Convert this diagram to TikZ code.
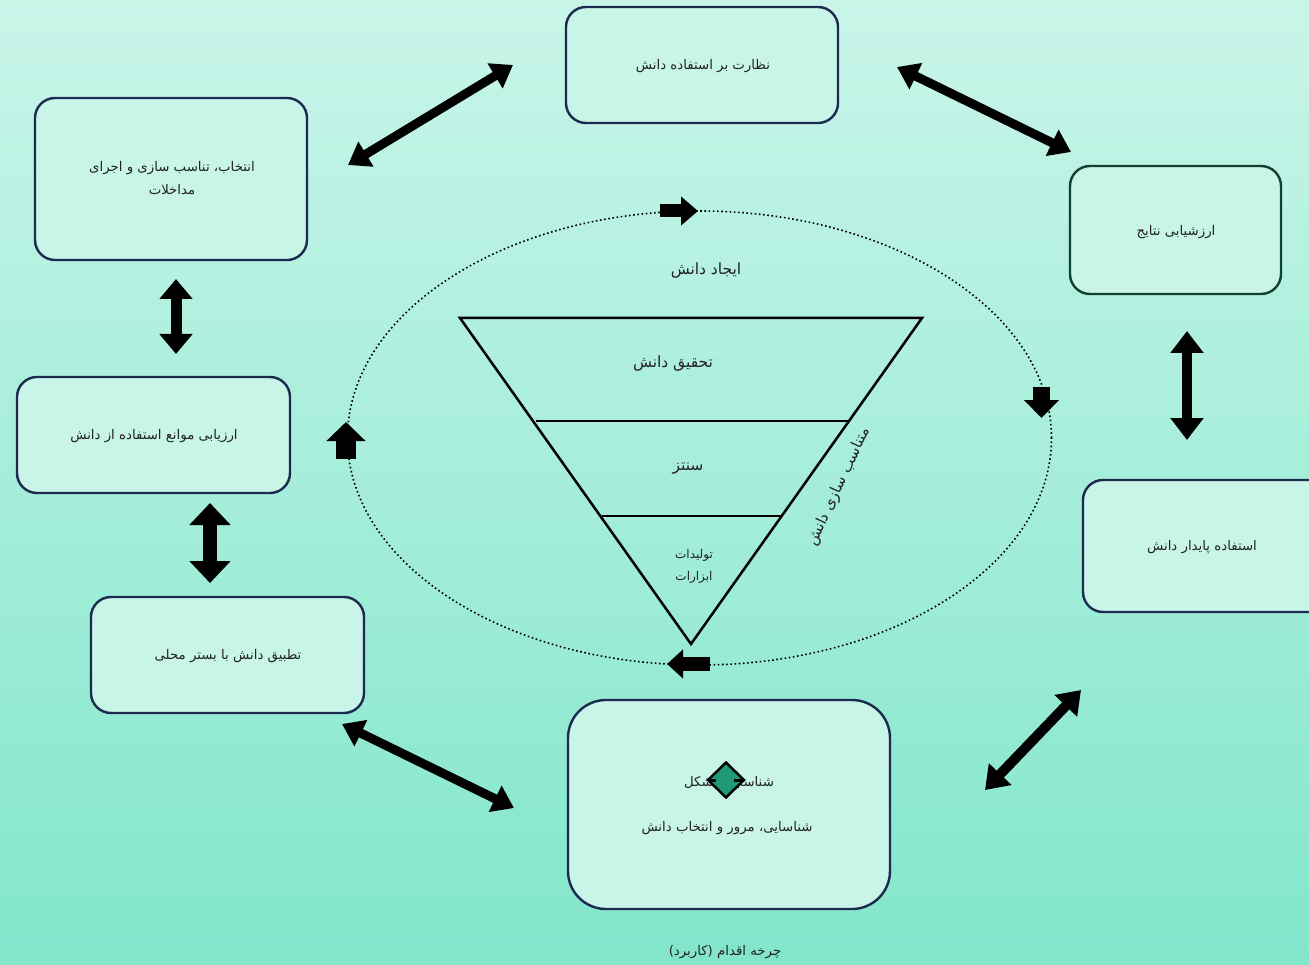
\documentclass[tikz,border=0pt]{standalone}
\usepackage{fontspec}
\newfontfamily\arabicfont[Script=Arabic]{DejaVu Sans}
\TeXXeTstate=1
\usetikzlibrary{arrows.meta,shapes.geometric}
\newcommand{\fa}[1]{{\arabicfont\beginR #1\endR}}
\definecolor{bgtop}{HTML}{C9F5E9}
\definecolor{bgbot}{HTML}{82E6CB}
\definecolor{boxfill}{HTML}{C8F5E8}
\definecolor{navy}{HTML}{1B2A4E}
\definecolor{dkgreen}{HTML}{12402E}
\definecolor{txt}{HTML}{222222}
\definecolor{teal}{HTML}{1E9A78}
\tikzset{
  x=1pt, y=-1pt,
  cbox/.style={draw=navy, line width=2.4pt, fill=boxfill, rounded corners=20pt},
  btext/.style={text=txt, font=\fontsize{13.3}{23}\selectfont, align=center},
  bigtext/.style={text=txt, font=\fontsize{15.5}{19}\selectfont, align=center},
  dbl/.style={line width=#1, draw=black},
  smallarr/.style={draw=black, line width=#1},
}
\begin{document}
\begin{tikzpicture}
\useasboundingbox (0,0) rectangle (1309,965);
\fill[top color=bgtop, bottom color=bgbot] (0,0) rectangle (1309,965);

% boxes
\draw[cbox] (566,7) rectangle (838,123);
\node[btext] (b1) at (703,66) {\fa{نظارت بر استفاده دانش}};
\draw[cbox] (35,98) rectangle (307,260);
\node[btext] (b2) at (172,178) {\fa{انتخاب، تناسب سازی و اجرای}\\\fa{مداخلات}};
\draw[cbox, draw=dkgreen] (1070,166) rectangle (1281,294);
\node[btext] (b3) at (1176,232) {\fa{ارزشیابی نتایج}};
\draw[cbox] (17,377) rectangle (290,493);
\node[btext] (b4) at (154,436) {\fa{ارزیابی موانع استفاده از دانش}};
\draw[cbox] (1083,480) rectangle (1330,612);
\node[btext] (b5) at (1202,547) {\fa{استفاده پایدار دانش}};
\draw[cbox] (91,597) rectangle (364,713);
\node[btext] (b6) at (228,656) {\fa{تطبیق دانش با بستر محلی}};
\draw[cbox, rounded corners=38pt] (568,700) rectangle (890,909);
\node[btext] (b7a) at (729,782) {\fa{شناسایی مشکل}};
\node[btext] (b7b) at (727,828) {\fa{شناسایی، مرور و انتخاب دانش}};
\node[diamond, draw=black, line width=2.5pt, fill=teal, minimum width=37pt, minimum height=36pt, inner sep=0pt] (dm) at (726,780) {};
\draw[line width=3pt] (708,780) -- (716,780);
\draw[line width=3pt] (734,780) -- (742,780);

% caption
\node[btext] (cap) at (725,952) {\fa{چرخه اقدام (کاربرد)}};

% double arrows
\coordinate (a1s) at (348,165); \coordinate (a1e) at (513,65);
\draw[dbl=9pt, {Triangle[length=21pt,width=28pt]}-{Triangle[length=21pt,width=28pt]}] (a1s) -- (a1e);
\coordinate (a2s) at (897,67); \coordinate (a2e) at (1071,152);
\draw[dbl=9pt, {Triangle[length=21pt,width=28pt]}-{Triangle[length=21pt,width=28pt]}] (a2s) -- (a2e);
\coordinate (a3s) at (1187,331); \coordinate (a3e) at (1187,440);
\draw[dbl=10pt, {Triangle[length=22pt,width=32pt]}-{Triangle[length=22pt,width=32pt]}] (a3s) -- (a3e);
\coordinate (a4s) at (985,790); \coordinate (a4e) at (1081,690);
\draw[dbl=10pt, {Triangle[length=22pt,width=30pt]}-{Triangle[length=22pt,width=30pt]}] (a4s) -- (a4e);
\coordinate (a5s) at (514,808); \coordinate (a5e) at (342,724);
\draw[dbl=9pt, {Triangle[length=21pt,width=28pt]}-{Triangle[length=21pt,width=28pt]}] (a5s) -- (a5e);
\coordinate (a6s) at (210,503); \coordinate (a6e) at (210,583);
\draw[dbl=14pt, {Triangle[length=22pt,width=40pt]}-{Triangle[length=22pt,width=40pt]}] (a6s) -- (a6e);
\coordinate (a7s) at (176,279); \coordinate (a7e) at (176,354);
\draw[dbl=11pt, {Triangle[length=20pt,width=32pt]}-{Triangle[length=20pt,width=32pt]}] (a7s) -- (a7e);

% ellipse
\draw[line width=1.6pt, dash pattern=on 1.6pt off 2.6pt] (699.5,438) ellipse [x radius=352pt, y radius=227pt];

% small arrows on ellipse
\coordinate (s1s) at (660,211); \coordinate (s1e) at (698,211);
\draw[smallarr=13pt, -{Triangle[length=17pt,width=28pt]}] (s1s) -- (s1e);
\coordinate (s2s) at (1041.5,387); \coordinate (s2e) at (1041.5,418);
\draw[smallarr=17pt, -{Triangle[length=18pt,width=34pt]}] (s2s) -- (s2e);
\coordinate (s3s) at (710,664); \coordinate (s3e) at (667,664);
\draw[smallarr=14pt, -{Triangle[length=16pt,width=28pt]}] (s3s) -- (s3e);
\coordinate (s4s) at (346,459); \coordinate (s4e) at (346,422);
\draw[smallarr=20pt, -{Triangle[length=19pt,width=38pt]}] (s4s) -- (s4e);

% triangle
\coordinate (t1) at (460,318); \coordinate (t2) at (922,318); \coordinate (t3) at (691,644);
\draw[line width=2.5pt, line join=miter] (t1) -- (t2) -- (t3) -- cycle;
\coordinate (l1a) at (536,421); \coordinate (l1b) at (850,421);
\draw[line width=1.2pt] (l1a) -- (l1b);
\coordinate (l2a) at (602,516); \coordinate (l2b) at (782,516);
\draw[line width=1.2pt] (l2a) -- (l2b);

\node[bigtext] (e0) at (706,271) {\fa{ایجاد دانش}};
\node[bigtext] (e1) at (673,364) {\fa{تحقیق دانش}};
\node[bigtext] (e2) at (688,469) {\fa{سنتز}};
\node[btext, font=\fontsize{12}{22}\selectfont] (e3) at (694,566) {\fa{تولیدات}\\\fa{ابزارات}};
\node[bigtext, font=\fontsize{15}{19}\selectfont, rotate=65] (e4) at (839,487) {\fa{متناسب سازی دانش}};
\end{tikzpicture}
\end{document}
